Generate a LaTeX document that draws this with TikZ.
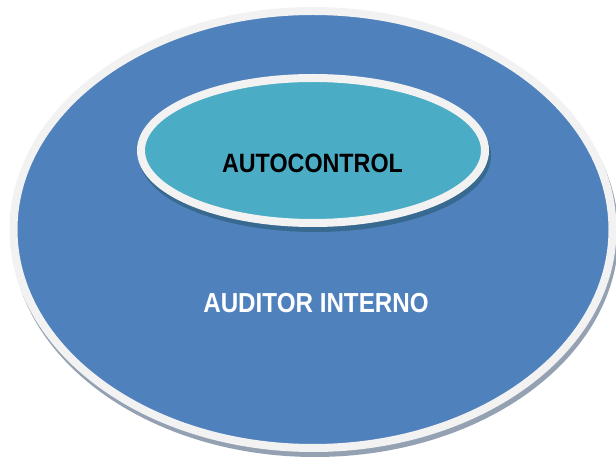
\documentclass[tikz,border=0pt]{standalone}
\usepackage{fontspec}
\setmainfont{Liberation Sans}
\newfontfamily\narrowbold{Liberation Sans}[FakeStretch=0.88]
\usetikzlibrary{shapes.geometric,shadows}

\definecolor{outerblue}{HTML}{4F81BD}
\definecolor{innerteal}{HTML}{4BACC6}
\definecolor{rimgrey}{HTML}{F2F2F2}
\definecolor{outershadow}{HTML}{94A1B3}
\definecolor{innershadow}{HTML}{386A91}

\tikzset{
  ring/.style={ellipse, draw=rimgrey, line width=8pt, inner sep=0pt},
  ringshadow/.style={drop shadow={shadow xshift=2pt, shadow yshift=-5pt,
      opacity=1, fill=#1, draw=#1, line width=8pt}},
  caption/.style={inner sep=0pt, font=\narrowbold\bfseries},
}

\begin{document}
\begin{tikzpicture}[x=1pt, y=-1pt]
  \useasboundingbox (0,0) rectangle (616,462);

  % outer circle of control: the internal auditor
  \node[ring, ringshadow=outershadow, fill=outerblue,
        minimum width=599pt, minimum height=437pt] (auditor) at (313,229.5) {};

  % inner circle: self-control
  \node[ring, ringshadow=innershadow, fill=innerteal,
        minimum width=344pt, minimum height=145pt] (auto) at (313,150.5) {};

  % labels
  \node[caption, black, font=\narrowbold\bfseries\fontsize{26.5}{30}\selectfont]
       (autolabel) at (312.5,163.5) {AUTOCONTROL};
  \node[caption, white, font=\narrowbold\bfseries\fontsize{27.5}{30}\selectfont]
       (auditorlabel) at (316,303) {AUDITOR INTERNO};
\end{tikzpicture}
\end{document}
